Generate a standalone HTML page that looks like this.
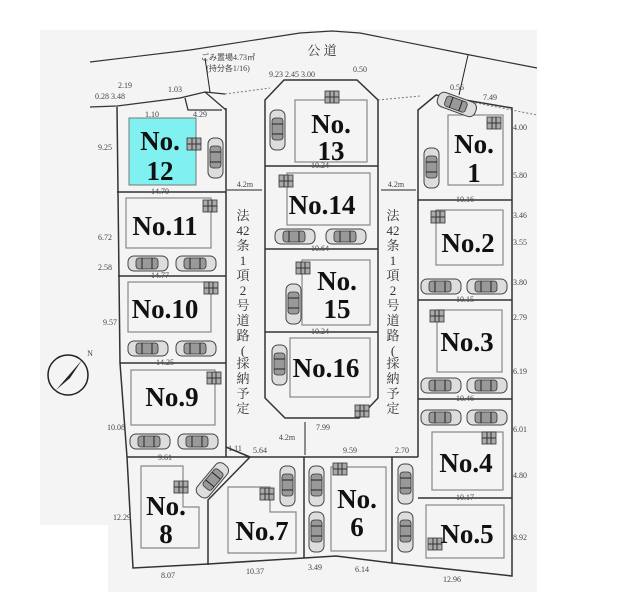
<!DOCTYPE html>
<html><head><meta charset="utf-8"><style>
html,body{margin:0;padding:0;background:#fff}
svg{display:block}
.n{font-family:"Liberation Serif","Noto Serif CJK SC",serif;font-weight:bold;fill:#111;text-anchor:middle}
.d{font-family:"Liberation Serif",serif;font-size:8px;fill:#444;text-anchor:middle}
.j{font-family:"Liberation Serif","Noto Serif CJK SC",serif;font-size:13px;fill:#333;text-anchor:middle}
</style></head><body>
<svg width="620" height="603" viewBox="0 0 620 603" xmlns="http://www.w3.org/2000/svg">
<defs>
<g id="ch"><rect x="0" y="0" width="40" height="15" rx="6" fill="#ddd" stroke="#444" stroke-width="1"/><rect x="8" y="2" width="22" height="11" rx="3" fill="#999" stroke="#333" stroke-width=".8"/><line x1="14" y1="2" x2="14" y2="13" stroke="#222"/><line x1="24" y1="2" x2="24" y2="13" stroke="#222"/></g>
<g id="cv"><rect x="0" y="0" width="15" height="40" rx="6" fill="#ddd" stroke="#444" stroke-width="1"/><rect x="2" y="8" width="11" height="22" rx="3" fill="#999" stroke="#333" stroke-width=".8"/><line x1="2" y1="14" x2="13" y2="14" stroke="#222"/><line x1="2" y1="24" x2="13" y2="24" stroke="#222"/></g>
<g id="sh"><rect x="0" y="0" width="14" height="12" fill="#aaa" stroke="#333" stroke-width=".8"/><line x1="5" y1="0" x2="5" y2="12" stroke="#333"/><line x1="9" y1="0" x2="9" y2="12" stroke="#333"/><line x1="0" y1="6" x2="14" y2="6" stroke="#333"/></g>
</defs>
<path d="M40 30H537V592H108V525H40Z" fill="#f4f4f4"/>
<!-- public road -->
<path d="M90 62 L190 50 L300 33 L332 31 L360 33 L470 55 L537 68" fill="none" stroke="#333" stroke-width="1.2"/>
<text class="j" x="322" y="55" font-size="12">公 道</text>
<text class="d" x="228" y="60" text-anchor="start" font-size="9">ごみ置場4.73㎡</text>
<text class="d" x="228" y="71" text-anchor="start" font-size="9">(持分各1/16)</text>
<path d="M90 107 L117 106 L180 98 L205 92 L225 94 M205 92 L226 110 M185 98 L188 110 L222 110" fill="none" stroke="#333" stroke-width="1.3"/>
<path d="M225 94 L270 88 M378 100 L420 96 M436 95 L537 115" fill="none" stroke="#777" stroke-width="1" stroke-dasharray="2 2"/>
<line x1="205" y1="58" x2="210" y2="92" stroke="#222"/>
<line x1="468" y1="55" x2="459" y2="95" stroke="#222"/>
<!-- left block -->
<path d="M117 107 L120 363 L127 457 L133 568 L208 564 L304 558 L336 556 L392 563 L512 576 L512 108 L436 95 L418 110 L418 457" fill="none" stroke="#333" stroke-width="1.5"/>
<path d="M226 108 V457 M117 192H226 M118 276H226 M120 363H226 M127 457H418 M250 457 L208 500 V565 M226 447 L250 457 M304 457V558 M392 457V563 M418 200H512 M418 300H512 M418 399H512 M418 498H512" fill="none" stroke="#333" stroke-width="1.5"/>
<!-- center block -->
<path d="M265 100 L284 80 L357 80 L378 100 V398 L359 418 L285 418 L265 398 Z M265 166H378 M265 249H378 M265 332H378" fill="none" stroke="#333" stroke-width="1.5"/>
<!-- house outlines -->
<rect x="129" y="118" width="67" height="67" fill="#80f0f0" stroke="#777"/>
<g fill="none" stroke="#888" stroke-width="1.2">
<rect x="295" y="100" width="72" height="62"/><rect x="448" y="115" width="55" height="70"/>
<rect x="287" y="173" width="83" height="52"/><rect x="126" y="198" width="85" height="50"/>
<rect x="436" y="210" width="67" height="55"/><rect x="302" y="260" width="68" height="65"/>
<rect x="128" y="282" width="83" height="50"/><rect x="437" y="310" width="65" height="62"/>
<rect x="290" y="338" width="80" height="59"/><rect x="131" y="370" width="84" height="55"/>
<rect x="432" y="432" width="71" height="58"/><rect x="426" y="505" width="78" height="53"/>
<path d="M141 466H183V507H199V548H141Z"/><path d="M228 487H270V512H296V553H228Z"/><rect x="331" y="467" width="55" height="84"/>
</g>
<!-- cars -->
<use href="#ch" x="128" y="256"/><use href="#ch" x="176" y="256"/>
<use href="#ch" x="275" y="229"/><use href="#ch" x="326" y="229"/>
<use href="#ch" x="128" y="341"/><use href="#ch" x="176" y="341"/>
<use href="#ch" x="421" y="279"/><use href="#ch" x="467" y="279"/>
<use href="#ch" x="421" y="378"/><use href="#ch" x="467" y="378"/>
<use href="#ch" x="421" y="410"/><use href="#ch" x="467" y="410"/>
<use href="#ch" x="130" y="434"/><use href="#ch" x="178" y="434"/>
<use href="#cv" x="208" y="138"/><use href="#cv" x="270" y="110"/><use href="#cv" x="424" y="148"/>
<use href="#cv" x="286" y="284"/><use href="#cv" x="272" y="345"/>
<use href="#cv" x="280" y="466"/><use href="#cv" x="309" y="466"/><use href="#cv" x="309" y="512"/>
<use href="#cv" x="398" y="464"/><use href="#cv" x="398" y="512"/>
<use href="#ch" x="437" y="97" transform="rotate(20 457 104)"/>
<use href="#cv" x="205" y="460" transform="rotate(40 212 480)"/>
<!-- sheds -->
<use href="#sh" x="187" y="138"/><use href="#sh" x="325" y="91"/><use href="#sh" x="487" y="117"/>
<use href="#sh" x="279" y="175"/><use href="#sh" x="203" y="200"/><use href="#sh" x="431" y="211"/>
<use href="#sh" x="296" y="262"/><use href="#sh" x="204" y="282"/><use href="#sh" x="430" y="310"/>
<use href="#sh" x="355" y="405"/><use href="#sh" x="207" y="372"/><use href="#sh" x="482" y="432"/>
<use href="#sh" x="174" y="481"/><use href="#sh" x="260" y="488"/><use href="#sh" x="333" y="463"/><use href="#sh" x="428" y="538"/>
<!-- lot labels -->
<g class="n" font-size="27">
<text x="160" y="150">No.</text><text x="160" y="180">12</text>
<text x="331" y="133">No.</text><text x="331" y="160">13</text>
<text x="474" y="153">No.</text><text x="474" y="182">1</text>
<text x="322" y="214">No.14</text><text x="165" y="235">No.11</text>
<text x="468" y="252">No.2</text>
<text x="337" y="290">No.</text><text x="337" y="318">15</text>
<text x="165" y="318">No.10</text><text x="467" y="351">No.3</text>
<text x="326" y="377">No.16</text><text x="172" y="406">No.9</text>
<text x="466" y="472">No.4</text>
<text x="166" y="515">No.</text><text x="166" y="543">8</text>
<text x="262" y="540">No.7</text>
<text x="357" y="508">No.</text><text x="357" y="536">6</text>
<text x="467" y="543">No.5</text>
</g>
<!-- road vertical labels -->
<g class="j">
<text x="243" y="220">法</text><text x="243" y="235">42</text><text x="243" y="250">条</text><text x="243" y="265">1</text><text x="243" y="280">項</text><text x="243" y="295">2</text><text x="243" y="310">号</text><text x="243" y="325">道</text><text x="243" y="340">路</text><text x="243" y="355">(</text><text x="243" y="368">採</text><text x="243" y="383">納</text><text x="243" y="398">予</text><text x="243" y="413">定</text>
<text x="393" y="220">法</text><text x="393" y="235">42</text><text x="393" y="250">条</text><text x="393" y="265">1</text><text x="393" y="280">項</text><text x="393" y="295">2</text><text x="393" y="310">号</text><text x="393" y="325">道</text><text x="393" y="340">路</text><text x="393" y="355">(</text><text x="393" y="368">採</text><text x="393" y="383">納</text><text x="393" y="398">予</text><text x="393" y="413">定</text>
</g>
<g class="d" font-size="10">
<text x="245" y="187">4.2m</text><text x="396" y="187">4.2m</text><text x="287" y="440">4.2m</text>
</g>
<path d="M227 190H262 M381 190H416 M305 422V455" stroke="#222" stroke-width="1"/>
<!-- dims -->
<g class="d">
<text x="110" y="99">0.28 3.48</text><text x="125" y="88">2.19</text><text x="175" y="92">1.03</text>
<text x="152" y="117">1.10</text><text x="200" y="117">4.29</text>
<text x="292" y="77">9.23 2.45 3.00</text><text x="360" y="72">0.50</text><text x="457" y="90">0.56</text><text x="490" y="100">7.49</text>
<text x="160" y="194">14.70</text><text x="160" y="278">14.77</text><text x="165" y="365">14.25</text><text x="165" y="460">9.61</text>
<text x="320" y="168">10.24</text><text x="320" y="251">10.64</text><text x="320" y="334">10.24</text><text x="323" y="430">7.99</text>
<text x="465" y="202">10.16</text><text x="465" y="302">10.15</text><text x="465" y="401">10.46</text><text x="465" y="500">10.17</text>
<text x="260" y="453">5.64</text><text x="350" y="453">9.59</text><text x="402" y="453">2.70</text><text x="235" y="451">1.11</text>
<text x="168" y="578">8.07</text><text x="255" y="574">10.37</text><text x="315" y="570">3.49</text><text x="362" y="572">6.14</text><text x="452" y="582">12.96</text>
<text x="105" y="150">9.25</text><text x="105" y="240">6.72</text><text x="105" y="270">2.58</text><text x="110" y="325">9.57</text><text x="116" y="430">10.08</text><text x="122" y="520">12.29</text>
<text x="520" y="130">4.00</text><text x="520" y="178">5.80</text><text x="520" y="218">3.46</text><text x="520" y="245">3.55</text><text x="520" y="285">3.80</text><text x="520" y="320">2.79</text><text x="520" y="374">6.19</text><text x="520" y="432">6.01</text><text x="520" y="478">4.80</text><text x="520" y="540">8.92</text>
</g>
<!-- compass -->
<circle cx="68" cy="375" r="20" fill="none" stroke="#222" stroke-width="1.5"/>
<path d="M56 390 L82 360 L70 378Z" fill="#222"/>
<text class="d" x="90" y="356" font-size="11" fill="#222">N</text>
</svg>
</body></html>
